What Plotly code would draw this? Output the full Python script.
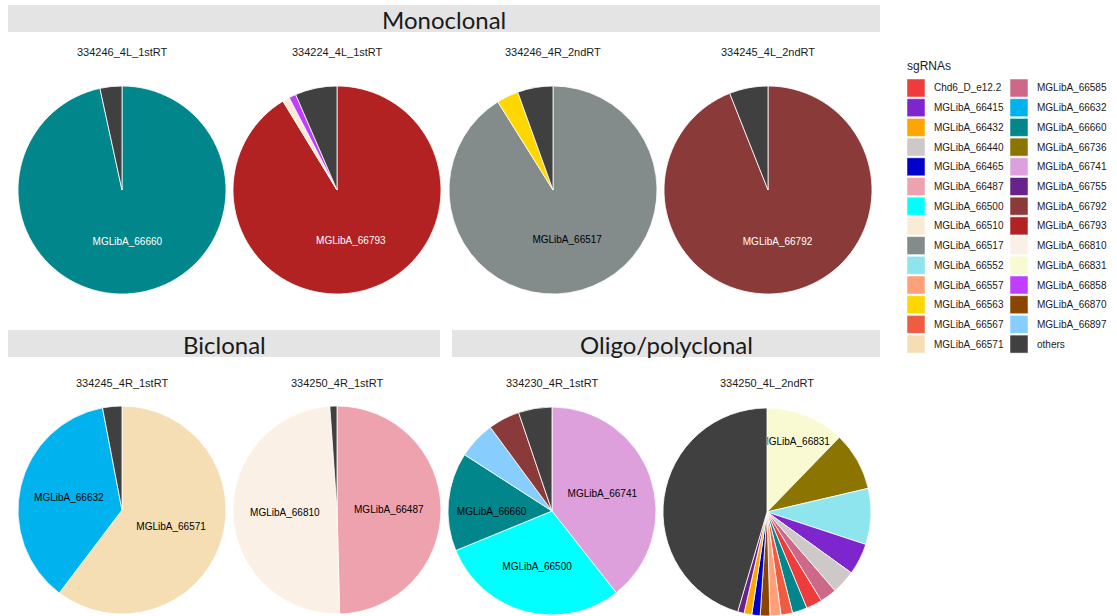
import plotly.graph_objects as go

# ---- data: sgRNA composition (% of reads) for each sample ----
samples = ["334246_4L_1stRT", "334224_4L_1stRT", "334246_4R_2ndRT", "334245_4L_2ndRT",
           "334245_4R_1stRT", "334250_4R_1stRT", "334230_4R_1stRT", "334250_4L_2ndRT"]
groups = ["Monoclonal", "Monoclonal", "Monoclonal", "Monoclonal",
          "Biclonal", "Biclonal", "Oligo/polyclonal", "Oligo/polyclonal"]

s1_labels = ["MGLibA_66660", "others"]
s1_values = [96.6, 3.4]
s2_labels = ["MGLibA_66793", "MGLibA_66510", "MGLibA_66858", "others"]
s2_values = [91.3, 1.1, 1.1, 6.5]
s3_labels = ["MGLibA_66517", "MGLibA_66563", "others"]
s3_values = [91.1, 3.4, 5.5]
s4_labels = ["MGLibA_66792", "others"]
s4_values = [94.0, 6.0]
s5_labels = ["MGLibA_66571", "MGLibA_66632", "others"]
s5_values = [60.3, 36.7, 3.0]
s6_labels = ["MGLibA_66487", "MGLibA_66810", "others"]
s6_values = [49.6, 49.3, 1.1]
s7_labels = ["MGLibA_66741", "MGLibA_66500", "MGLibA_66660", "MGLibA_66897", "MGLibA_66792", "others"]
s7_values = [39.4, 29.4, 15.3, 5.8, 4.9, 5.2]
s8_labels = ["MGLibA_66831", "MGLibA_66736", "MGLibA_66552", "MGLibA_66415", "MGLibA_66440",
             "MGLibA_66585", "Chd6_D_e12.2", "MGLibA_66660", "MGLibA_66567", "MGLibA_66557",
             "MGLibA_66870", "MGLibA_66465", "MGLibA_66432", "MGLibA_66755", "others"]
s8_values = [12.25, 9.1, 8.7, 4.9, 3.7, 2.6, 2.5, 2.3, 1.8, 1.7, 1.5, 1.3, 1.2, 1.0, 45.45]

legend_labels = ["Chd6_D_e12.2", "MGLibA_66415", "MGLibA_66432", "MGLibA_66440", "MGLibA_66465",
                 "MGLibA_66487", "MGLibA_66500", "MGLibA_66510", "MGLibA_66517", "MGLibA_66552",
                 "MGLibA_66557", "MGLibA_66563", "MGLibA_66567", "MGLibA_66571",
                 "MGLibA_66585", "MGLibA_66632", "MGLibA_66660", "MGLibA_66736", "MGLibA_66741",
                 "MGLibA_66755", "MGLibA_66792", "MGLibA_66793", "MGLibA_66810", "MGLibA_66831",
                 "MGLibA_66858", "MGLibA_66870", "MGLibA_66897", "others"]

# ---- styling ----
sgrna_colors = {
    "Chd6_D_e12.2": "#EE3B3B", "MGLibA_66415": "#7D26CD", "MGLibA_66432": "#FFA500",
    "MGLibA_66440": "#CDC9C9", "MGLibA_66465": "#0000CD", "MGLibA_66487": "#EEA2AD",
    "MGLibA_66500": "#00FFFF", "MGLibA_66510": "#FAEBD7", "MGLibA_66517": "#838B8B",
    "MGLibA_66552": "#8EE5EE", "MGLibA_66557": "#FFA07A", "MGLibA_66563": "#FFD700",
    "MGLibA_66567": "#EE5C42", "MGLibA_66571": "#F5DEB3", "MGLibA_66585": "#CD6889",
    "MGLibA_66632": "#00B2EE", "MGLibA_66660": "#00868B", "MGLibA_66736": "#8B7500",
    "MGLibA_66741": "#DDA0DD", "MGLibA_66755": "#68228B", "MGLibA_66792": "#8B3A3A",
    "MGLibA_66793": "#B22222", "MGLibA_66810": "#FAF0E6", "MGLibA_66831": "#FAFAD2",
    "MGLibA_66858": "#BF3EFF", "MGLibA_66870": "#8B4500", "MGLibA_66897": "#87CEFF",
    "others": "#404040",
}
label_text_colors = ["white", "white", "black", "white", "black", "black", "black", "black"]
LABEL_MIN_PCT = 10

W, H = 1117, 616
R = 104
centers = [(122, 190), (337, 190), (553, 190), (768, 190),
           (122, 510), (337, 510), (552, 511), (767, 512)]
strip_bg = "#E4E4E4"
text_font = "Liberation Sans, Arial, sans-serif"
strip_font = "Lato, Open Sans, sans-serif"


def px(x):
    return x / W


def py(y):
    return 1 - y / H


slice_labels = [s1_labels, s2_labels, s3_labels, s4_labels, s5_labels, s6_labels, s7_labels, s8_labels]
slice_values = [s1_values, s2_values, s3_values, s4_values, s5_values, s6_values, s7_values, s8_values]

fig = go.Figure()
annotations = []
shapes = []

for i, (labs, vals) in enumerate(zip(slice_labels, slice_values)):
    cx, cy = centers[i]
    total = sum(vals)
    # only named sgRNAs with a sizeable share get an inside label
    texts = [l if (l != "others" and 100 * v / total >= LABEL_MIN_PCT) else ""
             for l, v in zip(labs, vals)]
    fig.add_trace(go.Pie(
        labels=labs, values=vals, text=texts,
        textinfo="text", textposition="inside", insidetextorientation="horizontal",
        insidetextfont=dict(size=10, color=label_text_colors[i], family=text_font),
        marker=dict(colors=[sgrna_colors[l] for l in labs], line=dict(color="white", width=0.8)),
        sort=False, direction="clockwise", rotation=0, showlegend=False,
        domain=dict(x=[px(cx - R), px(cx + R)], y=[py(cy + R), py(cy - R)]),
        hoverinfo="label+percent",
    ))
    sub_y = 52 if cy < 300 else 383
    annotations.append(dict(x=px(cx), y=py(sub_y), xref="paper", yref="paper", text=samples[i],
                            showarrow=False, xanchor="center", yanchor="middle",
                            font=dict(size=11, color="#1A1A1A", family=text_font)))

# facet strips
strips = [("Monoclonal", 8, 880, 5, 32), ("Biclonal", 8, 440, 330, 357),
          ("Oligo/polyclonal", 452, 880, 330, 357)]
for name, x0, x1, y0, y1 in strips:
    shapes.append(dict(type="rect", xref="paper", yref="paper", x0=px(x0), x1=px(x1),
                       y0=py(y1), y1=py(y0), fillcolor=strip_bg, line=dict(width=0), layer="below"))
    annotations.append(dict(x=px((x0 + x1) / 2), y=py((y0 + y1) / 2 + 1), xref="paper", yref="paper",
                            text=name, showarrow=False, xanchor="center", yanchor="middle",
                            font=dict(size=24, color="#1A1A1A", family=strip_font)))

# legend drawn as two columns of swatches
annotations.append(dict(x=px(905), y=py(66), xref="paper", yref="paper", text="sgRNAs",
                        showarrow=False, xanchor="left", yanchor="middle",
                        font=dict(size=12, color="#1A1A1A", family=text_font)))
rows_per_col = 14
for k, lab in enumerate(legend_labels):
    col, row = divmod(k, rows_per_col)
    sx = 907 + col * 103
    sy = 79 + row * 19.7
    shapes.append(dict(type="rect", xref="paper", yref="paper", x0=px(sx), x1=px(sx + 18),
                       y0=py(sy + 18), y1=py(sy), fillcolor=sgrna_colors[lab],
                       line=dict(color="white", width=0.5)))
    annotations.append(dict(x=px(sx + 25), y=py(sy + 9), xref="paper", yref="paper", text=lab,
                            showarrow=False, xanchor="left", yanchor="middle",
                            font=dict(size=10, color="#1A1A1A", family=text_font)))

fig.update_layout(
    width=W, height=H, margin=dict(l=0, r=0, t=0, b=0),
    paper_bgcolor="white", plot_bgcolor="white",
    shapes=shapes, annotations=annotations,
    uniformtext=dict(minsize=10, mode="show"),
    showlegend=False,
)

fig.write_html("out.html")
